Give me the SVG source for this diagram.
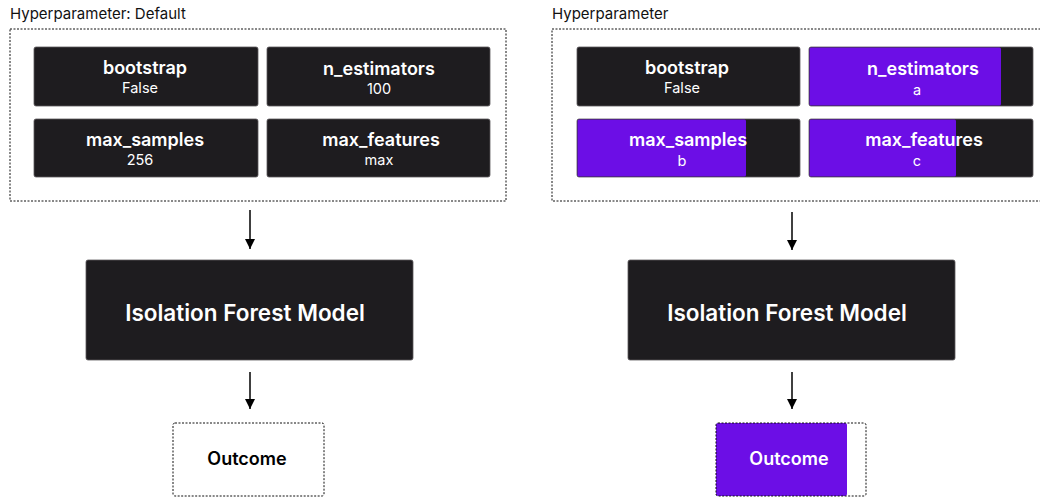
<svg xmlns="http://www.w3.org/2000/svg" width="1040" height="498" viewBox="0 0 1040 498">
<defs>
<style>
.bg{fill:#ffffff}
.frame{fill:none;stroke:#111;stroke-width:1;stroke-dasharray:2 1.5}
.node{fill:#1e1c1f;stroke:#5a585b;stroke-width:0.8}
.purple{fill:#6c0ee6}
.t{font-family:Inter,"Noto Sans","Liberation Sans",sans-serif;text-anchor:middle;fill:#ffffff}
.name{font-size:18px;font-weight:600}
.val{font-size:14.5px;font-weight:400}
.big{font-size:22.5px;font-weight:600}
.cap{font-family:Inter,"Noto Sans","Liberation Sans",sans-serif;font-size:15px;fill:#111}
.edge{stroke:#000;stroke-width:1.5;fill:none}
</style>
<marker id="ah" viewBox="0 0 10 10" refX="10" refY="5" markerWidth="10" markerHeight="10" markerUnits="userSpaceOnUse" orient="auto">
<path d="M0,0 L10,5 L0,10 z" fill="#000"/>
</marker>
</defs>
<rect class="bg" x="0" y="0" width="1040" height="498"/>

<text class="cap" x="10" y="19">Hyperparameter: Default</text>
<text class="cap" x="552" y="19">Hyperparameter</text>
<rect class="frame" x="10" y="29" width="496" height="172"/>
<rect class="frame" x="552" y="29" width="500" height="172"/>

<g id="l-bootstrap">
<rect class="node" x="34" y="47" width="224" height="59" rx="2"/>
<text class="t name" x="145" y="74">bootstrap</text>
<text class="t val" x="140" y="93">False</text>
</g>
<g id="l-n_estimators">
<rect class="node" x="267" y="47" width="223" height="59" rx="2"/>
<text class="t name" x="379" y="75">n_estimators</text>
<text class="t val" x="379" y="94">100</text>
</g>
<g id="l-max_samples">
<rect class="node" x="34" y="119" width="224" height="58" rx="2"/>
<text class="t name" x="145" y="146">max_samples</text>
<text class="t val" x="140" y="165">256</text>
</g>
<g id="l-max_features">
<rect class="node" x="267" y="119" width="223" height="58" rx="2"/>
<text class="t name" x="381" y="146">max_features</text>
<text class="t val" x="379" y="165">max</text>
</g>
<g id="l-model">
<rect class="node" x="86" y="260" width="327" height="100" rx="2"/>
<text class="t big" x="245" y="321">Isolation Forest Model</text>
</g>
<g id="l-outcome">
<rect class="frame" x="173" y="423" width="151" height="73" rx="2"/>
<text class="t name" x="247" y="465" style="fill:#000">Outcome</text>
</g>

<g id="r-bootstrap">
<rect class="node" x="577" y="47" width="223" height="59" rx="2"/>
<text class="t name" x="687" y="74">bootstrap</text>
<text class="t val" x="682" y="93">False</text>
</g>
<g id="r-n_estimators">
<rect class="node" x="809" y="47" width="224" height="59" rx="2"/>
<rect class="purple" x="809.5" y="47.5" width="191.5" height="58" rx="1.5"/>
<text class="t name" x="923" y="75">n_estimators</text>
<text class="t val" x="917" y="95">a</text>
</g>
<g id="r-max_samples">
<rect class="node" x="577" y="119" width="223" height="58" rx="2"/>
<rect class="purple" x="577.5" y="119.5" width="168.5" height="57" rx="1.5"/>
<text class="t name" x="688" y="146">max_samples</text>
<text class="t val" x="682" y="166">b</text>
</g>
<g id="r-max_features">
<rect class="node" x="809" y="119" width="224" height="58" rx="2"/>
<rect class="purple" x="809.5" y="119.5" width="146.5" height="57" rx="1.5"/>
<text class="t name" x="924" y="146">max_features</text>
<text class="t val" x="917" y="166">c</text>
</g>
<g id="r-model">
<rect class="node" x="628" y="260" width="327" height="100" rx="2"/>
<text class="t big" x="787" y="321">Isolation Forest Model</text>
</g>
<g id="r-outcome">
<rect class="purple" x="716" y="423" width="131" height="73" rx="2"/>
<rect class="frame" x="716" y="423" width="150" height="73" rx="2"/>
<text class="t name" x="789" y="465">Outcome</text>
</g>

<g id="connectors">
<line class="edge" x1="250" y1="210" x2="250" y2="249" marker-end="url(#ah)"/>
<line class="edge" x1="250" y1="372" x2="250" y2="409" marker-end="url(#ah)"/>
<line class="edge" x1="792" y1="212" x2="792" y2="250" marker-end="url(#ah)"/>
<line class="edge" x1="792" y1="372" x2="792" y2="409" marker-end="url(#ah)"/>
</g>
</svg>
